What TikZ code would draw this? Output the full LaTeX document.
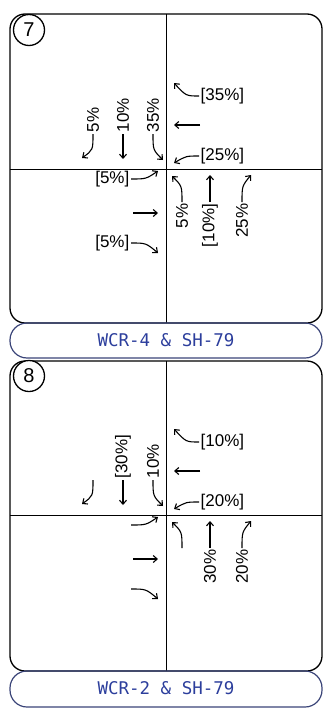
\documentclass[tikz,border=0pt]{standalone}
\usepackage{fontspec}
\setmainfont{Liberation Sans}
\newfontfamily\labfont{DejaVu Sans Mono}
\usetikzlibrary{arrows.meta}
\definecolor{navy}{HTML}{3A4478}
\definecolor{labblue}{HTML}{2C3E9C}
\begin{document}
\begin{tikzpicture}[x=1pt,y=-1pt,
  panel/.style={draw=black, line width=1.3pt, rounded corners=15pt},
  labbox/.style={draw=navy, line width=1.2pt, rounded corners=17pt},
  labtext/.style={text=labblue, font=\labfont\fontsize{17.5}{17.5}\selectfont},
  divider/.style={draw=black, line width=1pt},
  arr/.style={line width=1.1pt, -{Straight Barb[length=4pt,width=7pt,line width=1.1pt]}},
  pct/.style={font=\fontsize{17}{17}\selectfont, inner sep=1.5pt},
  numcirc/.style={circle, draw=black, line width=1.3pt, fill=white, minimum size=31pt, inner sep=0pt, font=\fontsize{20}{20}\selectfont}
]
\useasboundingbox (0,0) rectangle (328,709);

% ---------------- Panel 7 ----------------
\draw[panel] (10,14) rectangle (322,323);
\draw[divider] (166,14) -- (166,323);
\draw[divider] (10,169) -- (322,169);
\draw[labbox] (10,323) rectangle (322,358);
\node[labtext] (l1) at (166,340) {WCR-4 \& SH-79};
\node[numcirc] (n7) at (29,30) {7};

% upper left
\node[pct, rotate=90, anchor=west] (a1) at (93,134) {5\%};
\coordinate (a1t) at (82,158);
\draw[arr] (a1.west) .. controls (93,150) .. (a1t);
\node[pct, rotate=90, anchor=west] (a2) at (123,134) {10\%};
\coordinate (a2t) at (123,159);
\draw[arr] (a2.west) -- (a2t);
\node[pct, rotate=90, anchor=west] (a3) at (153,134) {35\%};
\coordinate (a3t) at (163,160);
\draw[arr] (a3.west) .. controls (153,150) .. (a3t);
% upper right
\node[pct, anchor=west] (a4) at (199,96) {[35\%]};
\coordinate (a4t) at (174,83);
\draw[arr] (a4.west) .. controls (186,96) .. (a4t);
\coordinate (a5s) at (200,125);
\coordinate (a5t) at (174,125);
\draw[arr] (a5s) -- (a5t);
\node[pct, anchor=west] (a6) at (199,156) {[25\%]};
\coordinate (a6t) at (174,163);
\draw[arr] (a6.west) .. controls (186,156) .. (a6t);
% lower left
\node[pct, anchor=east] (a7) at (131,179) {[5\%]};
\coordinate (a7t) at (158,171);
\draw[arr] (a7.east) .. controls (146,179) .. (a7t);
\coordinate (a8s) at (133,213);
\coordinate (a8t) at (158,213);
\draw[arr] (a8s) -- (a8t);
\node[pct, anchor=east] (a9) at (131,243) {[5\%]};
\coordinate (a9t) at (158,253);
\draw[arr] (a9.east) .. controls (146,243) .. (a9t);
% lower right
\node[pct, rotate=90, anchor=east] (a10) at (182,202) {5\%};
\coordinate (a10t) at (172,176);
\draw[arr] (a10.east) .. controls (182,186) .. (a10t);
\node[pct, rotate=90, anchor=east] (a11) at (210,202) {[10\%]};
\coordinate (a11t) at (210,175);
\draw[arr] (a11.east) -- (a11t);
\node[pct, rotate=90, anchor=east] (a12) at (242,202) {25\%};
\coordinate (a12t) at (251,175);
\draw[arr] (a12.east) .. controls (242,186) .. (a12t);

% ---------------- Panel 8 ----------------
\draw[panel] (10,361) rectangle (322,671);
\draw[divider] (166,361) -- (166,671);
\draw[divider] (10,515) -- (322,515);
\draw[labbox] (10,671) rectangle (322,707);
\node[labtext] (l2) at (166,688) {WCR-2 \& SH-79};
\node[numcirc] (n8) at (29,376) {8};

\begin{scope}[shift={(0,346)}]
% upper left
\coordinate (b1s) at (93,134);
\coordinate (b1t) at (82,158);
\draw[arr] (b1s) .. controls (93,150) .. (b1t);
\node[pct, rotate=90, anchor=west] (b2) at (123,134) {[30\%]};
\coordinate (b2t) at (123,159);
\draw[arr] (b2.west) -- (b2t);
\node[pct, rotate=90, anchor=west] (b3) at (153,134) {10\%};
\coordinate (b3t) at (163,160);
\draw[arr] (b3.west) .. controls (153,150) .. (b3t);
% upper right
\node[pct, anchor=west] (b4) at (199,96) {[10\%]};
\coordinate (b4t) at (174,83);
\draw[arr] (b4.west) .. controls (186,96) .. (b4t);
\coordinate (b5s) at (200,125);
\coordinate (b5t) at (174,125);
\draw[arr] (b5s) -- (b5t);
\node[pct, anchor=west] (b6) at (199,156) {[20\%]};
\coordinate (b6t) at (174,163);
\draw[arr] (b6.west) .. controls (186,156) .. (b6t);
% lower left
\coordinate (b7s) at (131,179);
\coordinate (b7t) at (158,171);
\draw[arr] (b7s) .. controls (146,179) .. (b7t);
\coordinate (b8s) at (133,213);
\coordinate (b8t) at (158,213);
\draw[arr] (b8s) -- (b8t);
\coordinate (b9s) at (131,243);
\coordinate (b9t) at (158,253);
\draw[arr] (b9s) .. controls (146,243) .. (b9t);
% lower right
\coordinate (b10s) at (182,202);
\coordinate (b10t) at (172,176);
\draw[arr] (b10s) .. controls (182,186) .. (b10t);
\node[pct, rotate=90, anchor=east] (b11) at (210,202) {30\%};
\coordinate (b11t) at (210,175);
\draw[arr] (b11.east) -- (b11t);
\node[pct, rotate=90, anchor=east] (b12) at (242,202) {20\%};
\coordinate (b12t) at (251,175);
\draw[arr] (b12.east) .. controls (242,186) .. (b12t);
\end{scope}
\end{tikzpicture}
\end{document}
